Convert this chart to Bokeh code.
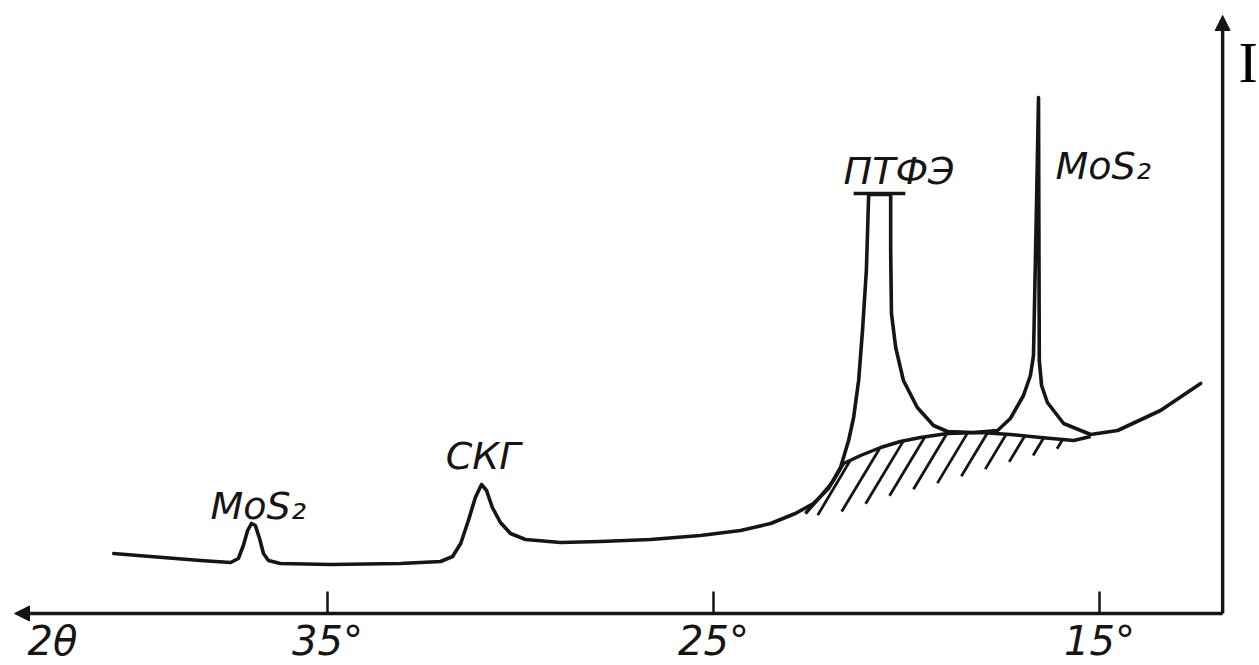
import numpy as np
from bokeh.plotting import figure
from bokeh.models import Range1d, Arrow, NormalHead
from bokeh.core.properties import value
from bokeh.embed import file_html
from bokeh.resources import INLINE

# ---- data: diffractogram, 2θ (deg, axis runs right-to-left) and intensity (arb. units)
two_theta = [40.54, 39.59, 38.29, 37.51, 37.31, 37.18, 37.07, 36.97, 36.87, 36.76,
             36.66, 36.53, 36.22, 34.92, 33.11, 32.07, 31.76, 31.55, 31.35, 31.17,
             31.01, 30.88, 30.73, 30.52, 30.26, 29.87, 28.96, 27.93, 26.63, 25.34,
             24.30, 23.52, 22.88, 22.41, 22.02, 21.71, 21.50, 21.37, 21.24, 21.14,
             21.04, 20.98, 20.41, 20.41, 20.39, 20.28, 20.08, 19.72, 19.30, 18.94,
             18.26, 17.64, 17.31, 16.97, 16.79, 16.71, 16.63, 16.58, 16.56, 16.50,
             16.35, 15.93, 15.23, 14.53, 13.42, 12.38]
intensity = [12.0, 11.4, 10.6, 10.2, 11.0, 13.6, 16.6, 18.0, 17.6, 15.0,
             12.0, 10.6, 10.0, 9.8, 10.0, 10.4, 11.4, 14.0, 18.6, 23.2,
             25.8, 24.6, 21.2, 18.2, 16.0, 14.8, 14.2, 14.4, 14.8, 15.6,
             16.6, 18.0, 20.0, 22.0, 25.0, 29.2, 34.6, 39.2, 46.6, 56.6,
             68.6, 83.8, 83.8, 72.6, 60.0, 53.2, 46.6, 41.2, 37.6, 36.4,
             36.2, 36.6, 39.0, 43.6, 47.6, 51.6, 82.6, 103.2, 50.6, 45.6,
             42.2, 38.0, 35.8, 36.6, 40.6, 46.0]

# off-scale cap of the PTFE peak
cap_theta = [21.37, 20.03]
cap_level = 84.0

# amorphous halo (hatched region)
halo_theta = [22.62, 22.23, 21.89, 21.63, 21.19, 20.67, 20.16, 19.64, 18.94, 18.08,
              17.31, 16.53, 15.67, 15.23]
halo_top = [20.0, 23.4, 26.6, 30.0, 31.6, 33.2, 34.4, 35.2, 36.0, 36.2,
            35.8, 35.2, 34.6, 35.4]
halo_base = [20.0, 19.6, 19.9, 20.5, 21.6, 23.0, 24.2, 25.2, 26.6, 28.6,
             30.4, 32.0, 33.9, 35.4]

# peak labels
peak_labels = ["MoS₂", "СКГ", "ПТФЭ", "MoS₂"]
label_theta = [38.03, 31.94, 21.63, 16.14]
label_int = [21.6, 31.6, 88.6, 89.6]

# axis ticks
tick_values = [35, 25, 15]
tick_labels = ["35°", "25°", "15°"]

# ---- layout constants
X_LEFT, X_RIGHT = 43.472, 10.855
Y_BOTTOM, Y_TOP = -10.4, 122.6
AXIS_X_TIP = 43.11
AXIS_ORIGIN = 11.81
AXIS_Y_TIP = 119.6
INK = "#151515"

p = figure(width=1259, height=665, output_backend="svg", toolbar_location=None,
           x_range=Range1d(X_LEFT, X_RIGHT), y_range=Range1d(Y_BOTTOM, Y_TOP),
           x_axis_location=None, y_axis_location=None, min_border=0,
           background_fill_color="white", border_fill_color="white")
p.outline_line_color = None
p.grid.visible = False
p.min_border_left = p.min_border_right = p.min_border_top = p.min_border_bottom = 0

# hatch lines of the halo, computed from its boundaries
ht = np.array(halo_theta)[::-1]
htop = np.array(halo_top)[::-1]
hbase = np.array(halo_base)[::-1]
hb = np.arange(22.30, 15.50, -0.62)
low = np.interp(hb, ht, hbase)
top_t = hb.copy()
for _ in range(6):
    up = np.interp(top_t, ht, htop)
    top_t = hb - 0.078 * (up - low)
up = np.interp(top_t, ht, htop)
p.segment(x0=hb, y0=low, x1=top_t, y1=up, line_color=INK, line_width=2.8)

# halo upper boundary
p.line(halo_theta, halo_top, line_color=INK, line_width=3.4, line_join="round")

# main curve
p.line(two_theta, intensity, line_color=INK, line_width=3.6, line_join="round",
       line_cap="round")

# PTFE cap
p.line(cap_theta, [cap_level, cap_level], line_color=INK, line_width=3.4)

# axes with arrows
head = dict(size=15, fill_color=INK, line_color=INK)
p.add_layout(Arrow(end=NormalHead(**head), x_start=AXIS_ORIGIN, y_start=0,
                   x_end=AXIS_X_TIP, y_end=0, line_color=INK, line_width=3.4))
p.add_layout(Arrow(end=NormalHead(**head), x_start=AXIS_ORIGIN, y_start=0,
                   x_end=AXIS_ORIGIN, y_end=AXIS_Y_TIP, line_color=INK, line_width=3.4))

# ticks
p.segment(x0=tick_values, y0=[0] * 3, x1=tick_values, y1=[4.4] * 3,
          line_color=INK, line_width=2.5)
p.text(x=tick_values, y=[-5.4] * 3, text=tick_labels, text_align="center",
       text_baseline="middle", text_font=value("DejaVu Sans"),
       text_font_style="italic", text_font_size="40px", text_color=INK)
p.text(x=[42.77], y=[-5.4], text=["2θ"], text_align="left", text_baseline="middle",
       text_font=value("DejaVu Sans"), text_font_style="italic",
       text_font_size="40px", text_color=INK)
p.text(x=[11.40], y=[110.2], text=["I"], text_align="left", text_baseline="middle",
       text_font=value("Liberation Serif"), text_font_size="58px", text_color="black")

# peak labels
p.text(x=label_theta, y=label_int, text=peak_labels, text_align="left",
       text_baseline="alphabetic", text_font=value("DejaVu Sans"),
       text_font_style="italic", text_font_size="38px", text_color=INK)

open("out.html", "w").write(file_html(p, INLINE))
